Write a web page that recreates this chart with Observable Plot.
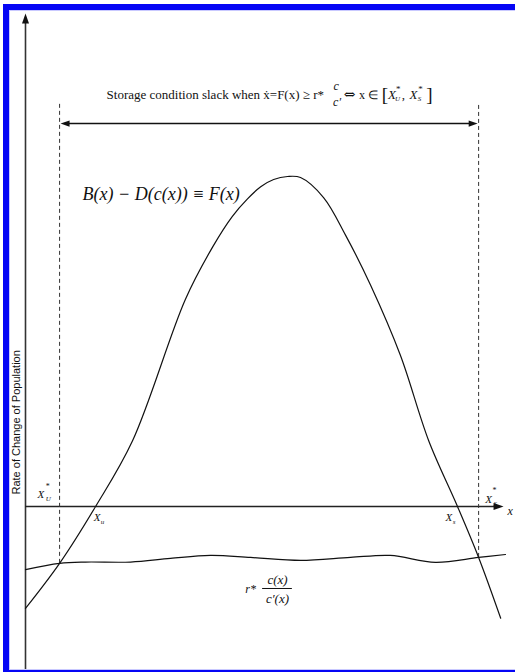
<!DOCTYPE html>
<html>
<head>
<meta charset="utf-8">
<script src="https://cdn.jsdelivr.net/npm/d3@7"></script>
<script src="https://cdn.jsdelivr.net/npm/@observablehq/plot@0.6"></script>
<style>
  body { margin: 0; background: #fff; overflow: hidden; }
  #wrap { position: relative; width: 515px; height: 672px; overflow: hidden; background: #fff; }
  #wrap svg { position: absolute; left: 0; top: 0; }
  #frame { position: absolute; left: 3px; top: 4px; width: 640px; height: 672px; box-sizing: border-box;
           border: 6px solid #0505f5; box-shadow: inset 0 0 0 1px #c9c9ff; pointer-events: none; }
</style>
</head>
<body>
<div id="wrap"><div id="frame"></div></div>
<script>
// Net growth F(x) = B(x) - D(c(x)) against population x
const popX      = [0, 7.1, 14.6, 22.3, 33.3, 39, 43.1, 46.25, 49, 51.7, 54.6, 57.3, 62.1, 66.7, 71.9, 78.1, 84, 90, 94.4, 99];
const netGrowth = [-31, -17.3, 0, 20, 63, 79, 88.3, 93.6, 97.3, 99.5, 100.4, 100.1, 94, 82.5, 67.3, 46, 20, 0, -15.5, -34];

// Storage cost ratio r*c(x)/c'(x)
const costX     = [0, 7.1, 12.5, 21.9, 30.2, 38.5, 46.9, 57.3, 67.7, 76, 85.4, 94.4, 100];
const costRatio = [-19.2, -17.3, -16.9, -16.9, -15.8, -14.9, -15.5, -16.4, -15.5, -14.9, -17, -15.5, -14.6];

// Equilibria: X*_U, X*_S bound the slack interval; X_u, X_s are the zeros of F
const slackBounds = [7.1, 94.4];
const slackLow    = [-17.3, -15.5];
const zeroLabels  = [{x: 14.2, sub: "u"}, {x: 87.5, sub: "s"}];

const yAxisTitle = "Rate of Change of Population";
const slackTitle = "Storage condition slack when ẋ=F(x) ≥ r*";

const growth = popX.map((x, i) => ({x, y: netGrowth[i]}));
const cost = costX.map((x, i) => ({x, y: costRatio[i]}));
const bounds = slackBounds.map((x, i) => ({x, low: slackLow[i]}));

// Filled arrowheads, tip at the anchor point
function head(dir, L, w) {
  return {
    draw(ctx) {
      if (dir === "up")    { ctx.moveTo(0, 0); ctx.lineTo(-w, L); ctx.lineTo(w, L); }
      if (dir === "right") { ctx.moveTo(0, 0); ctx.lineTo(-L, -w); ctx.lineTo(-L, w); }
      if (dir === "left")  { ctx.moveTo(0, 0); ctx.lineTo(L, -w); ctx.lineTo(L, w); }
      ctx.closePath();
    }
  };
}

const serif = "'Liberation Serif', 'Times New Roman', serif";
const txt = (data, opts) => Plot.text(data, {
  x: "x", y: "y", text: "t", lineAnchor: "bottom", textAnchor: "start",
  fontFamily: serif, fill: "#111", ...opts
});

const plot = Plot.plot({
  width: 515,
  height: 672,
  marginTop: 0, marginRight: 0, marginBottom: 0, marginLeft: 0,
  x: {domain: [0, 100], range: [25, 505], axis: null},
  y: {domain: [-50, 150], range: [670.33, 13], axis: null},
  style: {background: "transparent", fontFamily: serif},
  marks: [
    // axes
    Plot.ruleX([0], {y1: -50, y2: 147, stroke: "#333", strokeWidth: 1.6}),
    Plot.dot([{x: 0, y: 150}], {x: "x", y: "y", symbol: head("up", 10, 3.5), fill: "#111", stroke: "none"}),
    Plot.ruleY([0], {x1: 0, x2: 98, stroke: "#222", strokeWidth: 1.6}),
    Plot.dot([{x: 99.6, y: 0}], {x: "x", y: "y", symbol: head("right", 10, 3.5), fill: "#111", stroke: "none"}),

    // slack interval
    Plot.ruleX(bounds, {x: "x", y1: "low", y2: 122.6, stroke: "#333", strokeWidth: 1, strokeDasharray: "4,3"}),
    Plot.ruleY([116.5], {x1: slackBounds[0] + 1.5, x2: slackBounds[1] - 1.5, stroke: "#111", strokeWidth: 1.5}),
    Plot.dot([{x: slackBounds[0] + 0.2, y: 116.5}], {x: "x", y: "y", symbol: head("left", 9, 3.2), fill: "#111", stroke: "none"}),
    Plot.dot([{x: slackBounds[1] - 0.2, y: 116.5}], {x: "x", y: "y", symbol: head("right", 9, 3.2), fill: "#111", stroke: "none"}),

    // curves
    Plot.line(growth, {x: "x", y: "y", curve: "catmull-rom", stroke: "#111", strokeWidth: 1.2}),
    Plot.line(cost, {x: "x", y: "y", curve: "catmull-rom", stroke: "#111", strokeWidth: 1.2}),

    // interval statement
    txt([{x: 16.9, y: 124.1, t: slackTitle}], {fontSize: 13}),
    txt([{x: 64.7, y: 126.6, t: "c"}, {x: 64.9, y: 122.0, t: "c′"}], {fontSize: 12, fontStyle: "italic", textAnchor: "middle"}),
    txt([{x: 66.3, y: 124.1, t: "⇔"}], {fontSize: 14, fontFamily: "'DejaVu Serif', serif"}),
    txt([{x: 69.5, y: 124.1, t: "x ∈"}], {fontSize: 12}),
    txt([{x: 74.2, y: 123.3, t: "["}, {x: 83.5, y: 123.3, t: "]"}], {fontSize: 19}),
    txt([{x: 75.5, y: 124.1, t: "X"}, {x: 80.0, y: 124.1, t: "X"}], {fontSize: 13, fontStyle: "italic"}),
    txt([{x: 77.2, y: 126.2, t: "*"}, {x: 81.8, y: 126.2, t: "*"}], {fontSize: 9}),
    txt([{x: 77.0, y: 123.3, t: "U"}, {x: 81.7, y: 123.3, t: "S"}], {fontSize: 7, fontStyle: "italic"}),
    txt([{x: 78.4, y: 124.1, t: ","}], {fontSize: 13}),

    // curve labels
    txt([{x: 11.9, y: 93.4, t: "B(x) − D(c(x)) ≡ F(x)"}], {fontSize: 18, fontStyle: "italic"}),
    txt([{x: 45.8, y: -26.2, t: "r*"}], {fontSize: 12, fontStyle: "italic"}),
    txt([{x: 52.5, y: -23.7, t: "c(x)"}, {x: 52.5, y: -29.5, t: "c′(x)"}], {fontSize: 13, fontStyle: "italic", textAnchor: "middle"}),
    Plot.ruleY([-24.95], {x1: 49.4, x2: 55.6, stroke: "#111", strokeWidth: 1}),

    // equilibrium labels
    txt([{x: 2.5, y: 2.7, t: "X"}, {x: 95.8, y: 1.2, t: "X"}], {fontSize: 11, fontStyle: "italic"}),
    txt([{x: 4.2, y: 5.2, t: "*"}, {x: 97.3, y: 4.0, t: "*"}], {fontSize: 8}),
    txt([{x: 4.2, y: 1.8, t: "U"}, {x: 97.5, y: 0.3, t: "S"}], {fontSize: 7, fontStyle: "italic"}),
    txt(zeroLabels.map(d => ({x: d.x, y: -4.3, t: "X"})), {fontSize: 11, fontStyle: "italic"}),
    txt(zeroLabels.map(d => ({x: d.x + 1.5, y: -5.2, t: d.sub})), {fontSize: 7, fontStyle: "italic"}),
    txt([{x: 100.4, y: -2.7, t: "x"}], {fontSize: 12, fontStyle: "italic"}),

    // y-axis title
    Plot.text([{x: -1.9, y: 25.6, t: yAxisTitle}], {x: "x", y: "y", text: "t", rotate: -90,
      fontSize: 11, fontFamily: "'Liberation Sans', Arial, sans-serif", fill: "#111"})
  ]
});

document.getElementById("wrap").prepend(plot);
</script>
</body>
</html>
